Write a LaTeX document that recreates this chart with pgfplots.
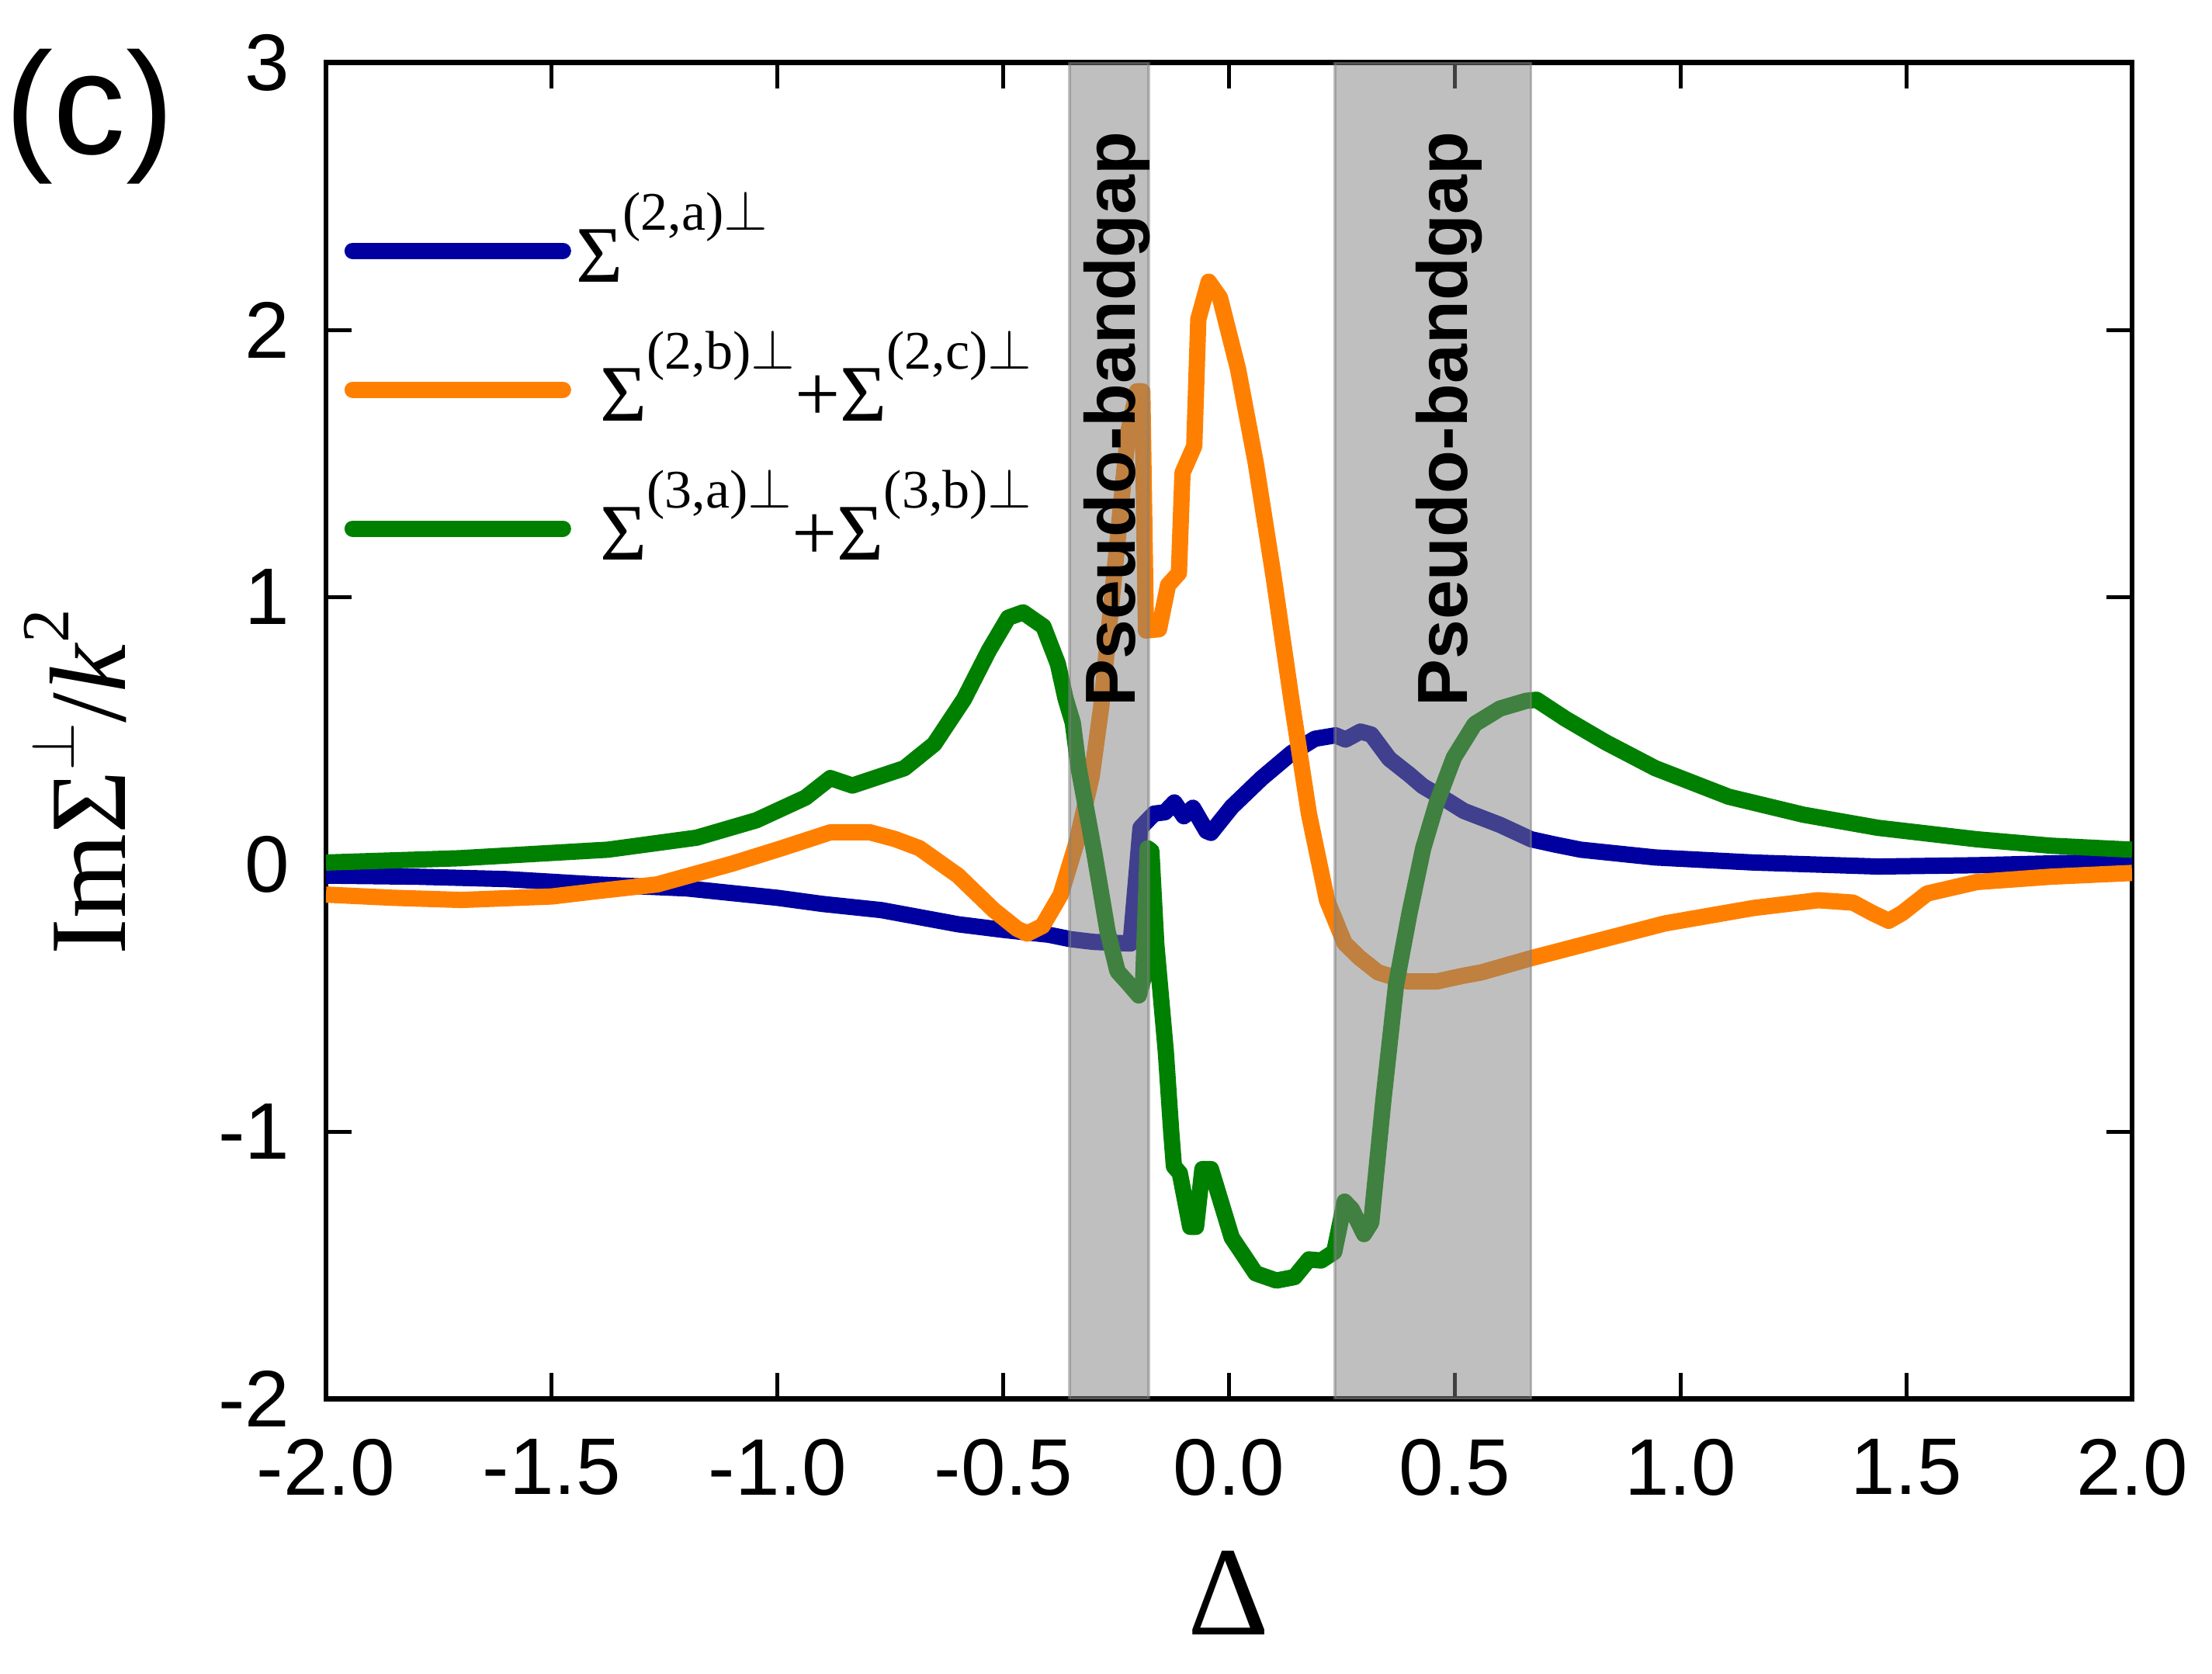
\documentclass[border=0pt]{standalone}
\usepackage{pgfplots}
\pgfplotsset{compat=1.18}
\usepackage{fontspec}
\setmainfont{Liberation Serif}
\newfontfamily\arial{Liberation Sans}
\definecolor{cblue}{RGB}{0,0,160}
\definecolor{corange}{RGB}{255,128,0}
\definecolor{cgreen}{RGB}{0,128,0}
\definecolor{bandgray}{RGB}{128,128,128}
\newcommand{\supx}[1]{\raisebox{10pt}{\fontsize{10.5}{10.5}\selectfont #1}}
\begin{document}
\begin{tikzpicture}
\useasboundingbox (-63pt,-53.1pt) rectangle (364.5pt,270.39pt);
\begin{axis}[
  at={(0,0)}, anchor=south west,
  scale only axis, width=349.05pt, height=258.3pt,
  xmin=-2, xmax=2, ymin=-2, ymax=3,
  xtick={-2,-1.5,-1,-0.5,0,0.5,1,1.5,2},
  xticklabels={-2.0,-1.5,-1.0,-0.5,0.0,0.5,1.0,1.5,2.0},
  ytick={-2,-1,0,1,2,3},
  yticklabels={-2,-1,0,1,2,3},
  tick align=inside, xtick pos=both, ytick pos=both,
  major tick length=5pt,
  tick style={line width=0.75pt, black},
  axis line style={line width=1pt},
  xticklabel style={font=\arial\fontsize{15.5}{15.5}\selectfont, inner sep=0pt, yshift=-7.6pt},
  yticklabel style={font=\arial\fontsize{15.5}{15.5}\selectfont, inner sep=0pt, xshift=-6.8pt},
  xlabel={\fontsize{24.5}{24.5}\selectfont Δ},
  xlabel style={at={(axis description cs:0.5,-0.1765)}, anchor=base},
  ylabel={\fontsize{21}{21}\selectfont ImΣ\raisebox{10pt}{\fontsize{12}{12}\selectfont$\perp$}/\textit{k}\raisebox{11pt}{\fontsize{13}{13}\selectfont 2}},
  ylabel style={at={(axis description cs:-0.1109,0.4617)}, anchor=base, rotate=0},
  legend cell align=left,
  legend image code/.code={\draw[#1, line width=3.15pt, line cap=round] (0pt,0pt) -- (40.65pt,0pt);},
  legend style={draw=none, fill=none, inner sep=0pt, outer sep=0pt,
    row sep=6.85pt, column sep=1pt,
    nodes={inner sep=0pt, text height=16pt, text depth=4pt, font=\fontsize{15.5}{15.5}\selectfont},
    at={(axis cs:-1.959,2.4895)}, anchor=north west},
]
\addplot[cblue, line width=3.15pt, line join=round] coordinates {
(-2.0,-0.042) (-1.8,-0.046) (-1.6,-0.055) (-1.4,-0.075) (-1.2,-0.09) (-1.0,-0.125)
(-0.9,-0.148) (-0.77,-0.171) (-0.6,-0.224) (-0.5,-0.245) (-0.445,-0.255) (-0.4,-0.263)
(-0.35,-0.28) (-0.3,-0.29) (-0.218,-0.296) (-0.196,0.137) (-0.166,0.19) (-0.142,0.195)
(-0.121,0.232) (-0.1,0.18) (-0.08,0.212) (-0.05,0.125) (-0.04,0.118) (0.006,0.215)
(0.072,0.322) (0.138,0.416) (0.19,0.47) (0.236,0.483) (0.258,0.467) (0.291,0.497)
(0.315,0.486) (0.355,0.395) (0.40,0.335) (0.429,0.293) (0.487,0.235) (0.52,0.2)
(0.6,0.148) (0.669,0.094) (0.72,0.075) (0.779,0.055) (0.944,0.026) (1.162,0.007)
(1.437,-0.008) (1.656,-0.003) (1.85,0.005) (2.0,0.012)
};
\addlegendentry{Σ\supx{(2,a)$\perp$}}
\addplot[corange, line width=3.15pt, line join=round] coordinates {
(-2.0,-0.113) (-1.85,-0.125) (-1.7,-0.133) (-1.5,-0.12) (-1.4,-0.1) (-1.267,-0.075)
(-1.1,0.003) (-0.99,0.061) (-0.883,0.12) (-0.795,0.12) (-0.74,0.095) (-0.686,0.061)
(-0.6,-0.042) (-0.521,-0.171) (-0.47,-0.24) (-0.447,-0.259) (-0.413,-0.23) (-0.373,-0.114)
(-0.338,0.08) (-0.304,0.33) (-0.283,0.59) (-0.25,1.155) (-0.224,1.61) (-0.204,1.77)
(-0.192,1.77) (-0.184,0.875) (-0.155,0.88) (-0.135,1.045) (-0.111,1.09) (-0.103,1.465)
(-0.077,1.565) (-0.068,2.04) (-0.045,2.18) (-0.02,2.12) (0.02,1.853) (0.059,1.504)
(0.099,1.074) (0.138,0.618) (0.177,0.189) (0.217,-0.134) (0.256,-0.295) (0.289,-0.349)
(0.33,-0.404) (0.396,-0.438) (0.46,-0.438) (0.52,-0.416) (0.559,-0.404) (0.669,-0.351)
(0.812,-0.288) (0.965,-0.221) (1.162,-0.163) (1.305,-0.134) (1.382,-0.143) (1.425,-0.182)
(1.461,-0.211) (1.491,-0.182) (1.546,-0.109) (1.656,-0.066) (1.82,-0.046) (2.0,-0.032)
};
\addlegendentry{\hspace{4.6pt}Σ\supx{(2,b)$\perp$}+Σ\supx{(2,c)$\perp$}}
\addplot[cgreen, line width=3.15pt, line join=round] coordinates {
(-2.0,0.007) (-1.705,0.023) (-1.376,0.055) (-1.179,0.10) (-1.047,0.165) (-0.938,0.25)
(-0.883,0.323) (-0.834,0.295) (-0.719,0.36) (-0.653,0.45) (-0.587,0.618) (-0.532,0.80)
(-0.489,0.923) (-0.456,0.943) (-0.411,0.89) (-0.379,0.75) (-0.362,0.62) (-0.346,0.53)
(-0.333,0.36) (-0.322,0.26) (-0.298,0.04) (-0.269,-0.25) (-0.247,-0.40) (-0.224,-0.443)
(-0.2,-0.49) (-0.19,-0.43) (-0.18,0.06) (-0.172,0.05) (-0.161,-0.3) (-0.14,-0.7)
(-0.128,-1.0) (-0.122,-1.13) (-0.109,-1.155) (-0.086,-1.356) (-0.073,-1.356) (-0.059,-1.14)
(-0.04,-1.14) (0.006,-1.396) (0.059,-1.53) (0.105,-1.557) (0.145,-1.544) (0.177,-1.478)
(0.204,-1.482) (0.233,-1.45) (0.256,-1.262) (0.272,-1.29) (0.299,-1.383) (0.315,-1.34)
(0.342,-0.88) (0.37,-0.45) (0.40,-0.18) (0.43,0.06) (0.46,0.23) (0.498,0.40)
(0.544,0.525) (0.6,0.583) (0.658,0.612) (0.681,0.616) (0.746,0.544) (0.834,0.457)
(0.944,0.36) (1.107,0.253) (1.272,0.186) (1.437,0.137) (1.656,0.094) (1.82,0.07) (2.0,0.055)
};
\addlegendentry{\hspace{4.6pt}Σ\supx{(3,a)$\perp$}+Σ\supx{(3,b)$\perp$}}
\addplot[forget plot, fill=bandgray, fill opacity=0.5, draw=bandgray, draw opacity=0.5, line width=0.5pt]
  coordinates {(-0.353,-2) (-0.353,3) (-0.178,3) (-0.178,-2) (-0.353,-2)};
\addplot[forget plot, fill=bandgray, fill opacity=0.5, draw=bandgray, draw opacity=0.5, line width=0.5pt]
  coordinates {(0.2345,-2) (0.2345,3) (0.669,3) (0.669,-2) (0.2345,-2)};
\node[rotate=90, anchor=base west, inner sep=0pt, font=\arial\bfseries\fontsize{13.7}{13.7}\selectfont]
  at (axis cs:-0.208,0.586) {Pseudo-bandgap};
\node[rotate=90, anchor=base west, inner sep=0pt, font=\arial\bfseries\fontsize{13.7}{13.7}\selectfont]
  at (axis cs:0.527,0.586) {Pseudo-bandgap};
\end{axis}
\node[anchor=base west, inner sep=0pt, font=\arial\fontsize{28}{28}\selectfont]
  at (-62.2pt,240.6pt) {(c)};
\end{tikzpicture}
\end{document}
